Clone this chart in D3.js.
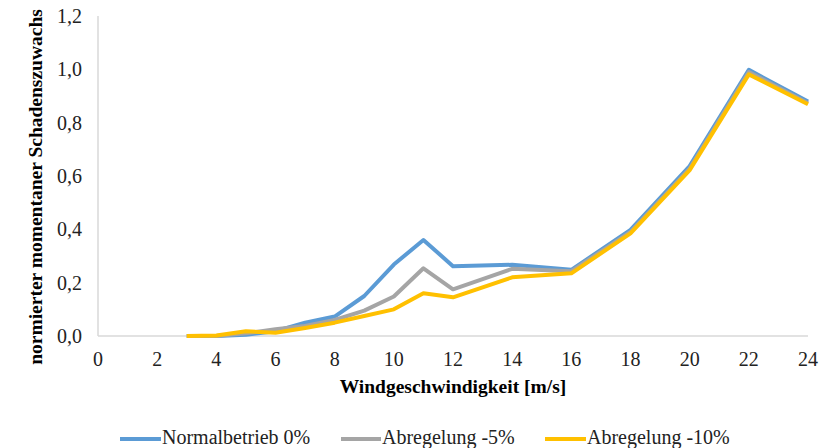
<!DOCTYPE html>
<html><head><meta charset="utf-8">
<script src="https://cdn.jsdelivr.net/npm/d3@7"></script>
<style>body{margin:0;background:#fff}svg{display:block}</style>
</head><body>
<svg id="c" width="835" height="448"></svg>
<script>
const windSpeeds = [3,4,5,6,7,8,9,10,11,12,14,16,18,20,22,24];
const normal0 = [0,0,0.005,0.018,0.05,0.073,0.15,0.268,0.36,0.262,0.267,0.248,0.398,0.637,0.998,0.879];
const abreg5 = [0,0,0.01,0.025,0.038,0.06,0.095,0.148,0.254,0.175,0.252,0.243,0.39,0.628,0.99,0.873];
const abreg10 = [0,0.002,0.018,0.012,0.03,0.05,0.075,0.1,0.16,0.145,0.22,0.235,0.385,0.622,0.981,0.869];
const seriesNames = ["Normalbetrieb 0%","Abregelung -5%","Abregelung -10%"];
const seriesColors = ["#5B9BD5","#A5A5A5","#FFC000"];
const xTicks = [0,2,4,6,8,10,12,14,16,18,20,22,24];
const yTicks = [0,0.2,0.4,0.6,0.8,1.0,1.2];
const xTitle = "Windgeschwindigkeit [m/s]";
const yTitle = "normierter momentaner Schadenszuwachs";

const FONT = "Liberation Serif";
const svg = d3.select("#c");
const x = d3.scaleLinear().domain([0,24]).range([98,808]);
const y = d3.scaleLinear().domain([0,1.2]).range([336,16]);
const fmt = v => d3.format(".1f")(v).replace(".", ",");

svg.append("line").attr("x1",98).attr("x2",98).attr("y1",y(1.2)).attr("y2",y(0)).attr("stroke","#d9d9d9").attr("stroke-width",1.5);
svg.append("line").attr("x1",98).attr("x2",808).attr("y1",y(0)).attr("y2",y(0)).attr("stroke","#d9d9d9").attr("stroke-width",1.5);

svg.selectAll(".yt").data(yTicks).join("text").attr("class","yt").attr("font-family",FONT)
  .attr("x",82).attr("y",d=>y(d)).attr("dy","0.35em").attr("text-anchor","end")
  .attr("font-size",20).attr("fill","#222").text(fmt);
svg.selectAll(".xt").data(xTicks).join("text").attr("class","xt").attr("font-family",FONT)
  .attr("x",d=>x(d)).attr("y",359).attr("dy","0.35em").attr("text-anchor","middle")
  .attr("font-size",20).attr("fill","#222").text(d=>d);

svg.append("text").attr("font-family",FONT).attr("x",453).attr("y",386).attr("dy","0.35em").attr("text-anchor","middle")
  .attr("font-size",19.5).attr("font-weight","bold").text(xTitle);
svg.append("text").attr("font-family",FONT).attr("transform","translate(35,187) rotate(-90)").attr("dy","0.35em")
  .attr("text-anchor","middle").attr("font-size",19.5).attr("font-weight","bold").text(yTitle);

const allSeries = [normal0, abreg5, abreg10];
const line = d3.line().x((d,i)=>x(windSpeeds[i])).y(d=>y(d));
allSeries.forEach((s,k)=>{
  svg.append("path").datum(s).attr("d",line).attr("fill","none")
    .attr("stroke",seriesColors[k]).attr("stroke-width",4).attr("stroke-linejoin","round");
});

const legLine = [[120,161],[341,381],[545,586]];
seriesNames.forEach((n,k)=>{
  svg.append("line").attr("x1",legLine[k][0]).attr("x2",legLine[k][1]).attr("y1",439).attr("y2",439)
    .attr("stroke",seriesColors[k]).attr("stroke-width",4);
  svg.append("text").attr("font-family",FONT).attr("x",legLine[k][1]+1).attr("y",437).attr("dy","0.35em")
    .attr("font-size",20).attr("fill","#222").text(n);
});
</script>
</body></html>
